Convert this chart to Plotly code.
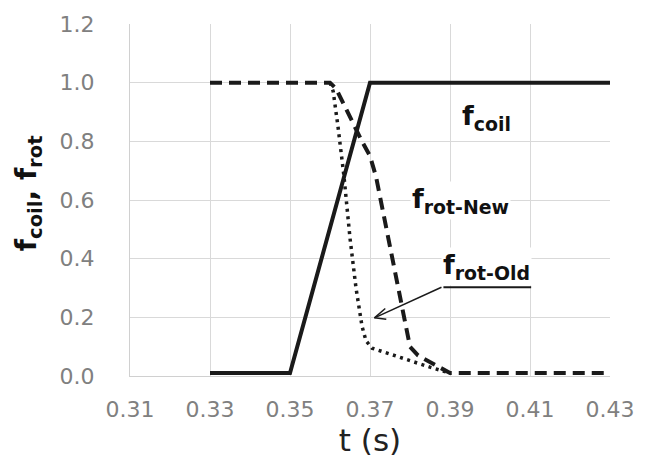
import plotly.graph_objects as go

# Data
t_coil = [0.33, 0.35, 0.37, 0.43]
f_coil = [0.01, 0.01, 1.0, 1.0]

t_new = [0.33, 0.36, 0.3615, 0.365, 0.368, 0.37, 0.3715, 0.38, 0.382, 0.39, 0.43]
f_new = [1.0, 1.0, 0.98, 0.88, 0.80, 0.75, 0.68, 0.10, 0.07, 0.01, 0.01]

t_old = [0.36, 0.3608, 0.362, 0.3635, 0.365, 0.3665, 0.368, 0.369, 0.3705, 0.375, 0.38, 0.385, 0.39]
f_old = [1.0, 0.97, 0.85, 0.68, 0.47, 0.30, 0.17, 0.12, 0.095, 0.075, 0.05, 0.03, 0.01]

x_ticks = [0.31, 0.33, 0.35, 0.37, 0.39, 0.41, 0.43]
y_ticks = [0.0, 0.2, 0.4, 0.6, 0.8, 1.0, 1.2]

FONT = "DejaVu Sans, sans-serif"
LINE = "#1a1a1a"

W, H = 646, 466
ML, MR, MT, MB = 130, 29, 19, 90
XR, YR = [0.31, 0.43], [0.0, 1.2]


def px(xp, yp):
    """Convert a page pixel position to data coordinates (for annotation graphics)."""
    x = XR[0] + (xp - ML) / (W - ML - MR) * (XR[1] - XR[0])
    y = YR[0] + (H - MB - yp) / (H - MT - MB) * (YR[1] - YR[0])
    return x, y


fig = go.Figure()
fig.add_trace(go.Scatter(x=t_coil, y=f_coil, mode="lines",
                         line=dict(color=LINE, width=4), showlegend=False))
fig.add_trace(go.Scatter(x=t_new, y=f_new, mode="lines",
                         line=dict(color=LINE, width=4, dash="12px,7px"),
                         showlegend=False))
fig.add_trace(go.Scatter(x=t_old, y=f_old, mode="lines",
                         line=dict(color=LINE, width=3.5, dash="3px,4.5px"),
                         showlegend=False))

ann_font = dict(family=FONT, size=27, color="#111111")
fig.add_annotation(x=0.3992, y=0.88, text="<b>f<sub>coil</sub></b>", showarrow=False,
                   font=ann_font, xref="x", yref="y", bgcolor="white")
fig.add_annotation(x=0.3925, y=0.60, text="<b>f<sub>rot-New</sub></b>", showarrow=False,
                   font=ann_font, xref="x", yref="y", bgcolor="white")
fig.add_annotation(x=0.3992, y=0.375, text="<b>f<sub>rot-Old</sub></b>", showarrow=False,
                   font=ann_font, xref="x", yref="y", bgcolor="white")

# underline of the f_rot-Old label and the open arrow pointing at the dotted curve
segments = [
    ((448, 286), (537, 286), 2),
    ((446, 286), (378, 317), 1.5),
    ((378, 317), (389, 307.5), 1.5),
    ((378, 317), (390, 318.5), 1.5),
]
for (p0, p1, w) in segments:
    x0, y0 = px(*p0)
    x1, y1 = px(*p1)
    fig.add_shape(type="line", x0=x0, y0=y0, x1=x1, y1=y1, xref="x", yref="y",
                  line=dict(color=LINE, width=w))

# y-axis title as rotated text
fig.add_annotation(x=-0.21, y=0.52, xref="paper", yref="paper", xanchor="center", yanchor="middle",
                   text="<b>f<sub>coil</sub>, f<sub>rot</sub></b>", textangle=-90, showarrow=False,
                   font=dict(family=FONT, size=28, color="#111111"))

fig.update_layout(
    width=W, height=H,
    margin=dict(l=ML, r=MR, t=MT, b=MB),
    paper_bgcolor="white", plot_bgcolor="white",
    font=dict(family=FONT),
    xaxis=dict(range=XR, tickvals=x_ticks, tickformat=".2f",
               showgrid=True, gridcolor="#d9d9d9", gridwidth=1,
               zeroline=False, showline=True, linecolor="#d0d0d0",
               ticks="outside", ticklen=14, tickcolor="rgba(0,0,0,0)",
               tickfont=dict(family=FONT, size=22, color="#808080"),
               title=dict(text="t (s)", font=dict(family=FONT, size=31, color="#222222"),
                          standoff=4)),
    yaxis=dict(range=YR, tickvals=y_ticks, tickformat=".1f",
               showgrid=True, gridcolor="#d9d9d9", gridwidth=1,
               zeroline=False, showline=True, linecolor="#d0d0d0",
               ticks="outside", ticklen=30, tickcolor="rgba(0,0,0,0)",
               tickfont=dict(family=FONT, size=22, color="#808080")),
)

fig.write_html("out.html")
